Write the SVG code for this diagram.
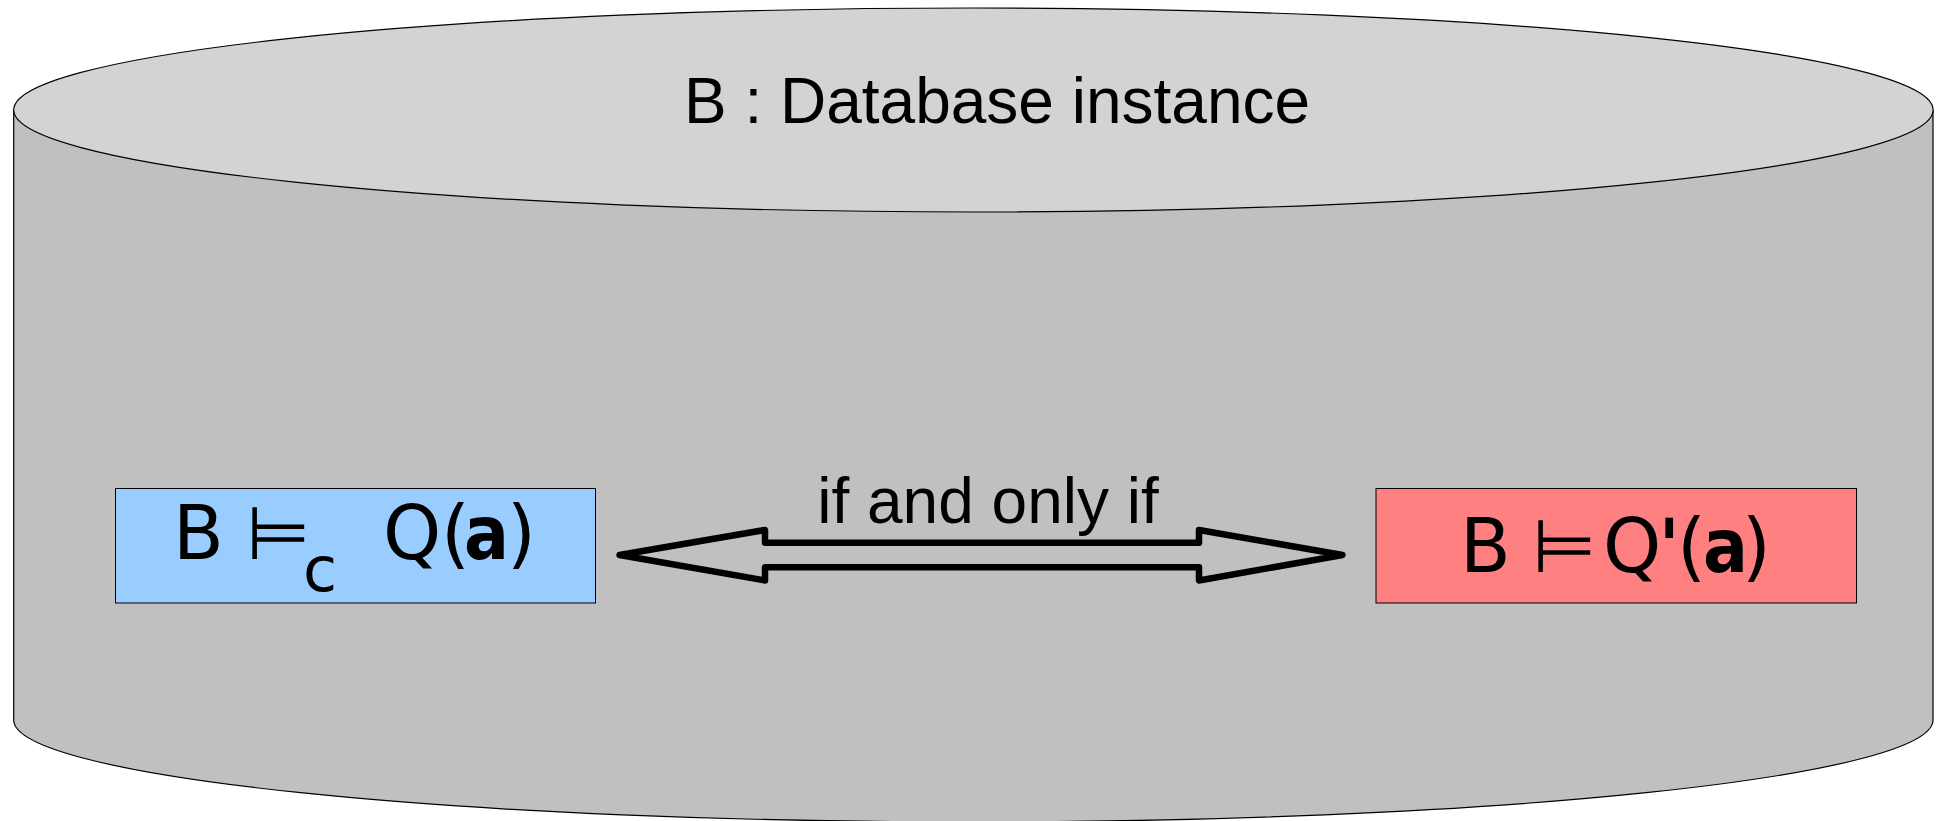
<svg xmlns="http://www.w3.org/2000/svg" width="1947" height="821" viewBox="0 0 1947 821">
<style>
.sym{font-family:"DejaVu Sans","Noto Sans",sans-serif;font-size:74px;fill:#000}
.lbl{font-family:"Liberation Sans",Arial,sans-serif;fill:#000}
.b{font-weight:bold;font-stretch:condensed}
</style>
<rect width="1947" height="821" fill="#ffffff"/>
<g id="database">
<path d="M13.7,110 L13.7,721 A959.7,102 0 0 0 1933,721 L1933,110 Z" fill="#c0c0c0" stroke="#000" stroke-width="1.2"/>
<ellipse cx="973.4" cy="110" rx="959.7" ry="102" fill="#d3d3d3" stroke="#000" stroke-width="1.2"/>
<text class="lbl" x="997" y="123" font-size="64" text-anchor="middle">B : Database instance</text>
</g>
<g id="left-node">
<rect x="115.5" y="488.5" width="480" height="114.5" fill="#99ccff" stroke="#000" stroke-width="1"/>
<text class="sym" y="559"><tspan x="173">B</tspan><tspan x="246">⊨</tspan><tspan x="303" y="591" font-size="62">c</tspan><tspan x="383" y="559">Q</tspan><tspan x="441">(</tspan><tspan x="464" class="b">a</tspan><tspan x="507">)</tspan></text>
</g>
<g id="right-node">
<rect x="1376" y="488.5" width="480.5" height="114.5" fill="#ff8080" stroke="#000" stroke-width="1"/>
<text class="sym" y="572"><tspan x="1460">B</tspan><tspan x="1532">⊨</tspan><tspan x="1603">Q</tspan><tspan x="1659" class="b">'</tspan><tspan x="1677">(</tspan><tspan x="1703" class="b">a</tspan><tspan x="1742">)</tspan></text>
</g>
<g id="connectors">
<path d="M619.5,555 L765,530 L765,542.7 L1199,542.7 L1199,530 L1342.5,555 L1199,580.5 L1199,567.3 L765,567.3 L765,580.5 Z" fill="none" stroke="#000" stroke-width="6.5" stroke-linejoin="round"/>
<text class="lbl" x="988" y="523" font-size="64" text-anchor="middle">if and only if</text>
</g>
</svg>
